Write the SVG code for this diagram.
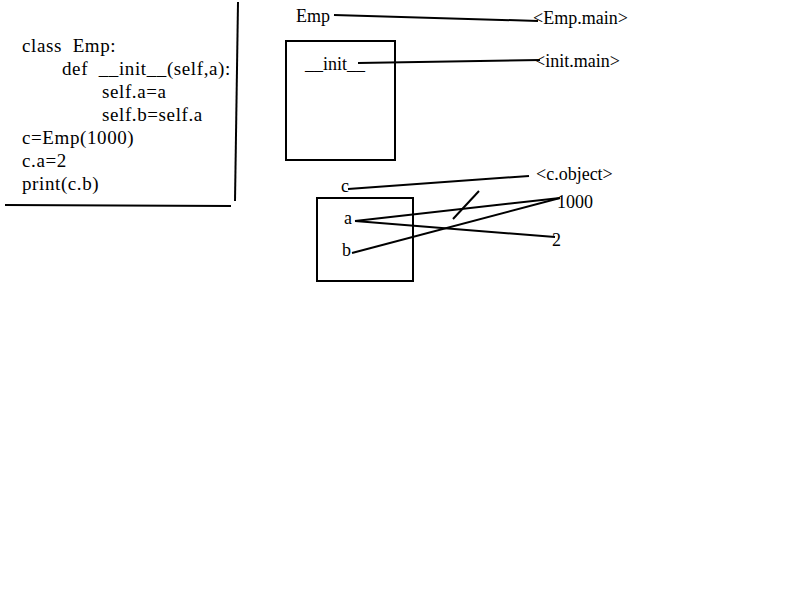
<svg xmlns="http://www.w3.org/2000/svg" width="800" height="600" viewBox="0 0 800 600">
<style>
text{font-family:"Liberation Serif","Times New Roman",serif;font-size:18px;fill:#000;white-space:pre}
.code{font-size:19px;letter-spacing:0.6px}
.ln{stroke:#000;stroke-width:2;fill:none}
.box{stroke:#000;stroke-width:2;fill:none}
</style>
<rect width="800" height="600" fill="#fff"/>
<g id="code" class="code">
<text class="code" x="22" y="52" xml:space="preserve">class  Emp:</text>
<text class="code" x="62" y="75" xml:space="preserve">def  __init__(self,a):</text>
<text class="code" x="102" y="98">self.a=a</text>
<text class="code" x="102" y="121">self.b=self.a</text>
<text class="code" x="22" y="144">c=Emp(1000)</text>
<text class="code" x="22" y="167">c.a=2</text>
<text class="code" x="22" y="190">print(c.b)</text>
<line class="ln" x1="238" y1="2" x2="235" y2="201"/>
<line class="ln" x1="5" y1="205" x2="231" y2="206"/>
</g>
<g id="emp"><text x="296" y="22">Emp</text></g>
<g id="empmain"><text x="533" y="24">&lt;Emp.main&gt;</text></g>
<g id="initbox"><rect class="box" x="286" y="41" width="109" height="119"/><text x="305" y="70">__init__</text></g>
<g id="initmain"><text x="535" y="67">&lt;init.main&gt;</text></g>
<g id="c"><text x="341" y="192">c</text></g>
<g id="cobject"><text x="536" y="180">&lt;c.object&gt;</text></g>
<g id="objbox"><rect class="box" x="317" y="198" width="96" height="83"/><text x="344" y="224">a</text><text x="342" y="256">b</text></g>
<g id="v1000"><text x="557" y="208">1000</text></g>
<g id="v2"><text x="552" y="246">2</text></g>
<g id="connectors">
<line class="ln" x1="334" y1="15" x2="538" y2="21"/>
<line class="ln" x1="358" y1="63" x2="540" y2="60"/>
<line class="ln" x1="348" y1="189" x2="529" y2="176"/>
<line class="ln" x1="355" y1="221" x2="560" y2="198"/>
<line class="ln" x1="355" y1="221" x2="555" y2="237"/>
<line class="ln" x1="352" y1="253" x2="560" y2="198"/>
<line class="ln" x1="453" y1="219" x2="479" y2="191"/>
</g>
</svg>
